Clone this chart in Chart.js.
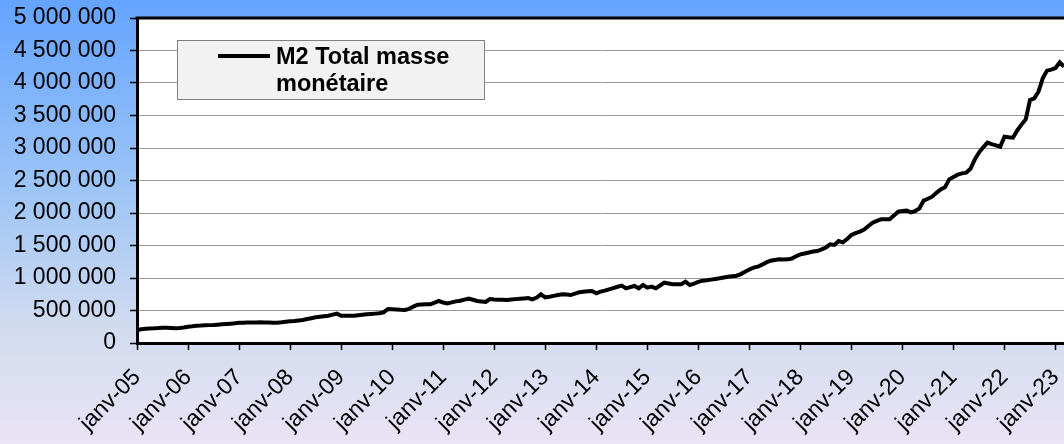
<!DOCTYPE html>
<html>
<head>
<meta charset="utf-8">
<title>M2 Total masse monétaire</title>
<script src="https://cdn.jsdelivr.net/npm/chart.js@4.4.1/dist/chart.umd.min.js"></script>
<style>
html, body { margin: 0; padding: 0; }
body {
  width: 1064px;
  height: 444px;
  overflow: hidden;
  background: linear-gradient(to bottom, #64a4ff 0%, #9cc4f6 42%, #d3dcef 75%, #ebe3f6 100%);
}
#wrap { position: relative; width: 1064px; height: 444px; }
canvas { display: block; }
</style>
</head>
<body>
<div id="wrap"><canvas id="m2Chart" width="1064" height="444"></canvas></div>
<script>
const mois = ["janv","févr","mars","avr","mai","juin","juil","août","sept","oct","nov","déc"];
const annees = ["05","06","07","08","09","10","11","12","13","14","15","16","17","18","19","20","21","22","23"];

// M2 mensuel, une liste par année
const m2_2005 = [200000,212000,220000,224000,226000,230000,236000,234000,230000,226000,232000,240000];
const m2_2006 = [251000,258000,267000,268000,272000,275000,277000,282000,287000,292000,297000,303000];
const m2_2007 = [313000,311000,314000,316000,317000,318000,317000,315000,313000,312000,318000,326000];
const m2_2008 = [335000,340000,347000,354000,368000,382000,395000,405000,412000,420000,436000,451000];
const m2_2009 = [420000,418000,421000,420000,428000,435000,441000,447000,452000,457000,472000,523000];
const m2_2010 = [518000,514000,510000,508000,525000,560000,590000,592000,595000,595000,620000,646000];
const m2_2011 = [622000,610000,625000,640000,651000,668000,682000,665000,646000,638000,631000,677000];
const m2_2012 = [670000,666000,664000,662000,668000,675000,680000,686000,692000,672000,700000,749000];
const m2_2013 = [703000,712000,725000,738000,749000,745000,738000,760000,780000,788000,795000,800000];
const m2_2014 = [764000,790000,805000,826000,845000,865000,882000,841000,860000,877000,841000,892000];
const m2_2015 = [851000,867000,841000,885000,928000,915000,903000,903000,903000,944000,892000,915000];
const m2_2016 = [940000,959000,965000,975000,985000,995000,1008000,1020000,1028000,1035000,1060000,1097000];
const m2_2017 = [1130000,1160000,1174000,1205000,1240000,1266000,1278000,1287000,1285000,1287000,1300000,1335000];
const m2_2018 = [1364000,1378000,1392000,1408000,1415000,1440000,1470000,1518000,1508000,1569000,1549000,1600000];
const m2_2019 = [1662000,1690000,1713000,1745000,1800000,1851000,1880000,1903000,1903000,1903000,1960000,2020000];
const m2_2020 = [2030000,2036000,2010000,2030000,2072000,2190000,2220000,2251000,2310000,2364000,2395000,2518000];
const m2_2021 = [2555000,2590000,2610000,2620000,2680000,2820000,2930000,3010000,3082000,3060000,3040000,3020000];
const m2_2022 = [3174000,3165000,3159000,3270000,3360000,3440000,3738000,3764000,3866000,4072000,4190000,4205000];
const m2_2023 = [4230000,4318000,4251000];

const m2 = [].concat(m2_2005, m2_2006, m2_2007, m2_2008, m2_2009, m2_2010, m2_2011, m2_2012,
  m2_2013, m2_2014, m2_2015, m2_2016, m2_2017, m2_2018, m2_2019, m2_2020, m2_2021, m2_2022, m2_2023);

const labels = [];
annees.forEach(a => mois.forEach(m => labels.push(m + "-" + a)));
labels.length = m2.length;

const yMax = 5000000;
const yStep = 500000;

const police = "'Liberation Sans', Arial, sans-serif";

function espaces(v) {
  return String(v).replace(/\B(?=(\d{3})+(?!\d))/g, " ");
}

// fond blanc de la zone de tracé + bordure haute
const zoneTrace = {
  id: "zoneTrace",
  beforeDraw(chart) {
    const { ctx, chartArea: a } = chart;
    ctx.save();
    ctx.fillStyle = "#ffffff";
    ctx.fillRect(a.left, a.top, a.right - a.left, a.bottom - a.top);
    ctx.restore();
  },
  afterDraw(chart) {
    const { ctx, chartArea: a } = chart;
    ctx.save();
    ctx.strokeStyle = "#000";
    ctx.lineWidth = 3;
    ctx.beginPath();
    ctx.moveTo(a.left - 1.5, a.top);
    ctx.lineTo(a.right, a.top);
    ctx.stroke();
    ctx.restore();
  }
};

// légende encadrée dans la zone de tracé
const legendeBoite = {
  id: "legendeBoite",
  afterDatasetsDraw(chart) {
    const ctx = chart.ctx;
    const ds = chart.data.datasets[0];
    const x = 177, y = 40, w = 307, h = 59;
    ctx.save();
    ctx.fillStyle = "#f2f2f2";
    ctx.fillRect(x, y, w, h);
    ctx.strokeStyle = "#808080";
    ctx.lineWidth = 1;
    ctx.strokeRect(x + 0.5, y + 0.5, w, h);
    ctx.strokeStyle = ds.borderColor;
    ctx.lineWidth = 4;
    ctx.beginPath();
    ctx.moveTo(218, 56);
    ctx.lineTo(270, 56);
    ctx.stroke();
    ctx.fillStyle = "#000";
    ctx.font = "bold 23.5px " + police;
    ctx.textBaseline = "alphabetic";
    ctx.textAlign = "left";
    ds.label.forEach((t, i) => ctx.fillText(t, 276, 64 + i * 27));
    ctx.restore();
  }
};

new Chart(document.getElementById("m2Chart"), {
  type: "line",
  data: {
    labels: labels,
    datasets: [{
      label: ["M2 Total masse", "monétaire"],
      data: m2,
      borderColor: "#000000",
      borderWidth: 4,
      pointRadius: 0,
      tension: 0,
      fill: false
    }]
  },
  options: {
    responsive: false,
    animation: false,
    devicePixelRatio: 1,
    layout: { padding: { top: 18, right: 0, bottom: 0, left: 0 } },
    plugins: {
      legend: { display: false },
      tooltip: { enabled: false }
    },
    scales: {
      x: {
        type: "category",
        offset: false,
        border: { display: true, color: "#000", width: 3 },
        grid: {
          display: true,
          drawOnChartArea: false,
          drawTicks: true,
          tickLength: 7,
          tickWidth: 1.5,
          tickColor: ctx => (ctx.index % 12 === 0 ? "#000" : "rgba(0,0,0,0)")
        },
        ticks: {
          autoSkip: false,
          minRotation: 45,
          maxRotation: 45,
          padding: 14,
          color: "#000",
          font: { family: police, size: 23 },
          callback: function (val, i) {
            return i % 12 === 0 ? this.getLabelForValue(val) : "";
          }
        },
        afterFit(scale) {
          scale.height = 101;
          scale.paddingLeft = 0;
          scale.paddingRight = 0;
        }
      },
      y: {
        min: 0,
        max: yMax,
        border: { display: true, color: "#000", width: 3 },
        grid: {
          color: "#9a9a9a",
          lineWidth: 1,
          tickColor: "#000",
          tickLength: 7,
          tickWidth: 1.5
        },
        ticks: {
          stepSize: yStep,
          padding: 14,
          color: "#000",
          font: { family: police, size: 23 },
          callback: v => espaces(v)
        },
        afterFit(scale) {
          scale.width = 137;
          scale.paddingTop = 0;
          scale.paddingBottom = 0;
        }
      }
    }
  },
  plugins: [zoneTrace, legendeBoite]
});
</script>
</body>
</html>
